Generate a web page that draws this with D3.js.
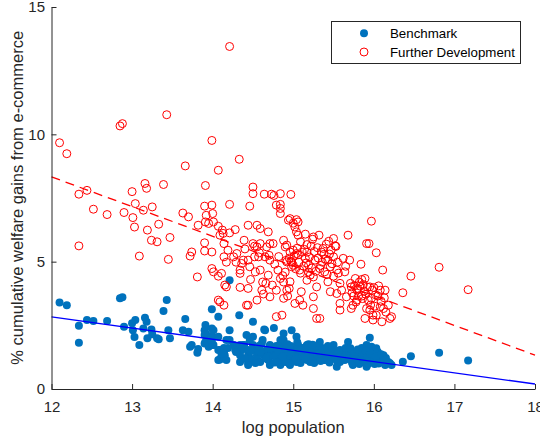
<!DOCTYPE html>
<html>
<head>
<meta charset="utf-8">
<script src="https://cdn.jsdelivr.net/npm/d3@7"></script>
<style>
  html, body { margin: 0; padding: 0; background: #fff; }
  svg { display: block; font-family: "Liberation Sans", Arial, Helvetica, sans-serif; }
</style>
</head>
<body>
<svg id="chart" width="540" height="438"></svg>
<script>
// Each city: [log population, benchmark gain %, further-development gain %]
const cities = [
  [12.10, 3.40, 9.67], [12.19, 3.29, 9.24], [12.34, 2.48, 7.65], [12.34, 1.82, 5.62],
  [12.44, 2.71, 7.80], [12.52, 2.67, 7.06], [12.69, 2.67, 6.85], [12.85, 3.56, 10.33],
  [12.88, 3.60, 10.42], [12.90, 2.44, 6.93], [13.00, 2.58, 7.75], [13.01, 2.31, 6.73],
  [13.04, 2.71, 7.28], [13.03, 2.04, 6.36], [13.09, 1.73, 5.22], [13.14, 2.38, 7.02],
  [13.16, 2.80, 8.07], [13.18, 2.64, 7.88], [13.19, 1.99, 6.24], [13.24, 2.34, 5.84],
  [13.25, 2.15, 7.15], [13.31, 1.99, 5.78], [13.33, 1.95, 6.47], [13.39, 3.06, 8.03],
  [13.43, 3.49, 10.77], [13.45, 2.31, 5.09], [13.47, 1.99, 5.95], [13.63, 2.31, 6.91],
  [13.66, 2.75, 8.76], [13.70, 2.25, 6.76], [13.74, 1.73, 5.38], [13.72, 1.66, 5.22],
  [13.81, 1.42, 4.40], [13.82, 1.57, 6.43], [13.91, 2.51, 7.99], [13.90, 2.31, 7.18],
  [13.92, 2.15, 6.82], [13.91, 1.85, 6.56], [13.90, 1.79, 5.74], [13.90, 2.12, 5.42],
  [13.95, 1.66, 6.50], [13.99, 3.13, 9.76], [13.99, 2.38, 7.22], [14.00, 1.73, 6.89],
  [14.01, 1.73, 6.56], [13.99, 1.92, 5.38], [13.99, 2.08, 4.73], [14.01, 2.31, 4.60],
  [14.07, 2.84, 8.59], [14.07, 2.05, 6.39], [14.07, 1.53, 4.43], [14.07, 1.14, 3.49],
  [14.09, 1.53, 6.04], [14.09, 1.16, 3.42], [14.11, 1.33, 4.54], [14.13, 1.45, 6.11],
  [14.14, 1.61, 5.71], [14.14, 1.45, 5.19], [14.15, 1.33, 4.08], [14.14, 1.22, 3.29],
  [14.17, 1.14, 4.01], [14.21, 4.27, 13.45], [14.21, 2.31, 7.25], [14.21, 1.92, 6.13],
  [14.26, 1.73, 5.19], [14.28, 1.53, 6.26], [14.30, 1.61, 5.32], [14.33, 2.90, 9.02],
  [14.34, 1.33, 4.67], [14.34, 1.73, 3.99], [14.34, 1.06, 4.54], [14.36, 1.53, 4.93],
  [14.38, 1.73, 5.06], [14.42, 2.12, 3.29], [14.44, 1.03, 6.43], [14.44, 1.33, 5.06],
  [14.44, 1.53, 3.95], [14.44, 0.94, 3.29], [14.46, 1.92, 7.18], [14.46, 1.22, 4.80],
  [14.50, 2.64, 7.93], [14.50, 2.05, 5.71], [14.50, 1.73, 7.67], [14.52, 1.53, 5.61],
  [14.52, 1.14, 5.19], [14.55, 1.16, 3.49], [14.55, 1.61, 5.58], [14.55, 1.33, 6.43],
  [14.57, 1.45, 5.19], [14.59, 1.53, 6.30], [14.59, 1.06, 5.71], [14.61, 1.79, 3.88],
  [14.63, 1.33, 3.73], [14.64, 2.34, 7.65], [14.65, 2.31, 5.19], [14.67, 1.53, 5.58],
  [14.69, 1.14, 6.17], [14.71, 1.73, 5.71], [14.71, 1.33, 5.06], [14.71, 0.94, 3.62],
  [14.73, 1.53, 7.65], [14.75, 1.33, 5.71], [14.76, 2.40, 7.60], [14.79, 1.45, 7.22],
  [14.79, 1.14, 3.88], [14.79, 1.69, 2.84], [14.84, 1.92, 7.67], [14.84, 1.53, 7.25],
  [14.84, 1.33, 7.09], [14.84, 1.06, 6.89], [14.84, 0.94, 4.34], [14.86, 1.69, 2.90],
  [14.88, 2.18, 3.56], [14.88, 1.14, 4.20], [14.90, 1.45, 5.58], [14.92, 1.33, 4.99],
  [14.92, 1.73, 3.88], [14.94, 1.06, 6.63], [14.96, 1.53, 5.38], [14.96, 0.94, 6.69],
  [14.96, 1.45, 4.21], [14.97, 1.69, 7.64], [14.98, 2.31, 4.80], [15.00, 1.33, 5.45],
  [15.00, 1.61, 4.86], [15.00, 1.14, 6.51], [15.02, 1.45, 6.36], [15.02, 1.22, 3.36],
  [15.04, 2.05, 6.17], [15.04, 1.53, 5.32], [15.04, 1.06, 6.65], [15.06, 1.33, 6.04],
  [15.06, 1.73, 6.56], [15.08, 1.14, 4.67], [15.08, 1.45, 3.49], [15.10, 1.61, 3.82],
  [15.12, 1.33, 3.29], [15.15, 1.53, 5.13], [15.17, 1.73, 5.67], [15.17, 1.22, 4.27],
  [15.19, 1.45, 4.86], [15.21, 1.06, 4.47], [15.25, 1.53, 5.97], [15.25, 1.33, 4.40],
  [15.25, 1.22, 3.62], [15.25, 1.61, 3.16], [15.27, 1.45, 5.06], [15.29, 1.33, 4.01],
  [15.29, 1.14, 2.77], [15.32, 1.53, 6.04], [15.33, 1.85, 4.73], [15.33, 1.22, 2.77],
  [15.35, 1.45, 5.38], [15.37, 1.33, 5.52], [15.39, 1.14, 4.60], [15.43, 1.45, 4.21],
  [15.46, 1.33, 4.80], [15.46, 1.22, 3.82], [15.50, 1.73, 5.91], [15.50, 1.45, 5.19],
  [15.54, 0.87, 4.67], [15.54, 1.33, 3.75], [15.58, 1.22, 4.15], [15.58, 1.53, 3.36],
  [15.58, 1.06, 3.10], [15.62, 1.33, 5.13], [15.64, 1.14, 4.60], [15.66, 1.45, 3.62],
  [15.68, 1.85, 6.04], [15.70, 1.22, 5.06], [15.72, 1.33, 4.01], [15.72, 1.14, 3.16],
  [15.74, 0.94, 3.29], [15.77, 1.22, 4.34], [15.79, 1.45, 3.88], [15.81, 1.14, 3.65],
  [15.84, 1.33, 4.90], [15.85, 1.22, 4.30], [15.89, 1.06, 4.34], [15.89, 1.14, 2.77],
  [15.91, 1.73, 5.71], [15.91, 0.87, 3.16], [15.94, 1.53, 5.71], [15.95, 2.01, 4.01],
  [15.95, 1.22, 3.10], [15.97, 1.66, 6.59], [15.97, 1.06, 3.56], [15.99, 1.53, 2.90],
  [15.99, 1.14, 2.71], [16.03, 1.60, 5.35], [16.03, 1.33, 2.90], [16.08, 1.22, 3.88],
  [16.08, 1.06, 3.23], [16.10, 1.33, 2.64], [16.11, 1.22, 4.67], [16.12, 1.33, 3.16],
  [16.14, 0.94, 3.88], [16.18, 1.06, 3.29], [16.20, 1.01, 2.77], [16.22, 0.94, 2.84],
  [16.36, 1.07, 3.78], [16.46, 1.29, 4.43], [16.81, 1.42, 4.78], [17.17, 1.12, 3.90],
  [14.88, 1.92, 5.84], [14.92, 1.29, 5.65], [14.95, 1.61, 5.14], [14.98, 1.45, 4.98],
  [15.01, 1.25, 5.22], [15.05, 1.84, 5.53], [15.07, 1.53, 4.98], [15.11, 1.29, 5.37],
  [15.13, 1.61, 4.82], [15.17, 1.14, 5.37], [15.19, 1.76, 4.59], [15.22, 1.45, 5.61],
  [15.31, 1.29, 5.14], [15.36, 1.61, 4.98], [15.38, 1.14, 5.29], [15.41, 1.45, 5.69],
  [15.43, 1.69, 5.06], [15.47, 1.22, 5.45], [15.50, 1.53, 4.43], [15.55, 1.06, 4.98],
  [15.60, 1.37, 3.88], [15.65, 1.61, 4.82], [15.75, 1.29, 3.65], [15.79, 1.06, 3.49],
  [15.83, 1.45, 4.04], [15.85, 1.61, 3.65], [15.88, 1.29, 3.84], [15.93, 0.98, 3.49],
  [15.98, 1.22, 3.88], [16.01, 0.98, 3.25], [16.05, 1.45, 3.65], [16.15, 1.22, 3.02],
  [14.59, 1.45, 4.67], [14.62, 1.92, 4.20], [14.69, 1.29, 4.47], [14.74, 1.61, 4.08],
  [14.81, 1.45, 4.67], [14.90, 1.06, 4.59], [14.93, 1.76, 3.65], [14.39, 1.73, 5.84],
  [14.29, 1.45, 4.98], [14.19, 1.61, 5.45], [14.17, 1.92, 4.98], [14.12, 1.40, 6.24],
  [14.97, 1.37, 5.02], [15.03, 1.18, 4.72], [15.06, 1.57, 5.27], [15.09, 1.02, 4.55],
  [15.14, 1.40, 5.48], [15.16, 1.66, 4.95], [15.20, 1.20, 5.18], [15.23, 1.50, 4.75],
  [15.26, 1.02, 5.40], [15.28, 1.70, 4.62], [15.30, 1.36, 5.55], [15.34, 1.10, 4.85],
  [15.40, 1.58, 5.10], [15.42, 1.26, 4.50], [15.45, 1.04, 5.30], [15.48, 1.62, 4.92],
  [15.52, 1.30, 5.62], [15.56, 1.48, 4.55], [15.71, 1.60, 4.15], [15.73, 1.02, 3.78],
  [15.76, 1.40, 4.05], [15.78, 1.18, 3.42], [15.80, 1.55, 3.95], [15.82, 0.98, 4.20],
  [15.86, 1.36, 3.55], [15.87, 1.12, 4.10], [15.90, 1.48, 3.72], [15.92, 1.26, 4.00],
  [15.96, 1.38, 3.30], [16.00, 1.10, 3.98], [16.02, 1.28, 3.70], [16.06, 1.00, 4.05],
  [16.09, 1.36, 3.45], [16.13, 1.12, 3.58], [14.40, 1.20, 5.50], [14.47, 1.48, 4.30],
  [14.53, 1.02, 4.60], [14.58, 1.70, 5.35], [14.66, 1.20, 4.15], [14.70, 1.60, 5.25],
  [14.77, 1.04, 4.90], [14.82, 1.70, 5.20], [14.87, 1.28, 4.45], [14.91, 1.58, 5.05],
  [14.95, 1.00, 3.95], [15.09, 1.52, 5.78], [15.15, 1.24, 6.08], [15.24, 1.74, 5.88],
  [15.44, 1.38, 5.80], [15.53, 1.16, 5.60]
];

const logPop     = cities.map(d => d[0]);
const benchmark  = cities.map(d => d[1]);
const furtherDev = cities.map(d => d[2]);

// Linear fits, evaluated at the ends of the x range
const fitRange = [12, 18];
const benchFit = [2.835, 0.196];
const devFit   = [8.33, 1.33];

const xTicks = [12, 13, 14, 15, 16, 17, 18];
const yTicks = [0, 5, 10, 15];
const seriesNames = ["Benchmark", "Further Development"];

const axisColor = "#262626";
const blue = "#0072BD";
const red = "#FF0000";

const svg = d3.select("#chart");
svg.append("rect").attr("width", 540).attr("height", 438).attr("fill", "#fff");

const x = d3.scaleLinear().domain([12, 18]).range([51.5, 535]);
const y = d3.scaleLinear().domain([0, 15]).range([389, 7]);

// Benchmark: filled dots
svg.append("g").selectAll("circle")
  .data(logPop.map((p, i) => [p, benchmark[i]]))
  .join("circle")
  .attr("cx", d => x(d[0]))
  .attr("cy", d => y(d[1]))
  .attr("r", 4)
  .attr("fill", blue);

// Further development: open circles
svg.append("g").selectAll("circle")
  .data(logPop.map((p, i) => [p, furtherDev[i]]))
  .join("circle")
  .attr("cx", d => x(d[0]))
  .attr("cy", d => y(d[1]))
  .attr("r", 4)
  .attr("fill", "none")
  .attr("stroke", red)
  .attr("stroke-width", 1);

// Fit lines
const line = d3.line().x(d => x(d[0])).y(d => y(d[1]));
svg.append("path")
  .datum(fitRange.map((r, i) => [r, benchFit[i]]))
  .attr("d", line)
  .attr("fill", "none")
  .attr("stroke", "#0000FF")
  .attr("stroke-width", 1.3);
svg.append("path")
  .datum(fitRange.map((r, i) => [r, devFit[i]]))
  .attr("d", line)
  .attr("fill", "none")
  .attr("stroke", red)
  .attr("stroke-width", 1.3)
  .attr("stroke-dasharray", "9,6");

// Axes with inward ticks
const xAxis = svg.append("g")
  .attr("transform", "translate(0,389)")
  .call(d3.axisBottom(x).tickValues(xTicks).tickFormat(d3.format("d"))
    .tickSizeInner(-5).tickSizeOuter(0).tickPadding(12));
const yAxis = svg.append("g")
  .attr("transform", "translate(51.5,0)")
  .call(d3.axisLeft(y).tickValues(yTicks).tickFormat(d3.format("d"))
    .tickSizeInner(-5).tickSizeOuter(0).tickPadding(6.5));

[xAxis, yAxis].forEach(g => {
  g.select(".domain").attr("stroke", axisColor).attr("stroke-width", 1);
  g.selectAll(".tick line").attr("stroke", axisColor).attr("stroke-width", 1);
  g.selectAll(".tick text")
    .attr("fill", axisColor)
    .style("font-size", "15px")
    .style("font-family", "'Liberation Sans', Arial, sans-serif");
});

// Axis titles
svg.append("text")
  .attr("x", 293.25).attr("y", 432.5)
  .attr("text-anchor", "middle")
  .attr("fill", axisColor)
  .style("font-size", "16.5px")
  .text("log population");
svg.append("text")
  .attr("transform", "translate(23.3,197.75) rotate(-90)")
  .attr("text-anchor", "middle")
  .attr("fill", axisColor)
  .style("font-size", "16.5px")
  .text("% cumulative welfare gains from e-commerce");

// Legend
const legend = svg.append("g");
legend.append("rect")
  .attr("x", 331.5).attr("y", 21.5)
  .attr("width", 189).attr("height", 42)
  .attr("fill", "#fff")
  .attr("stroke", axisColor)
  .attr("stroke-width", 1);
legend.append("circle").attr("cx", 364).attr("cy", 33.3).attr("r", 4).attr("fill", blue);
legend.append("circle").attr("cx", 364).attr("cy", 52).attr("r", 4)
  .attr("fill", "none").attr("stroke", red).attr("stroke-width", 1);
legend.selectAll("text.entry")
  .data(seriesNames)
  .join("text")
  .attr("class", "entry")
  .attr("x", 390)
  .attr("y", (d, i) => i === 0 ? 38.3 : 56.8)
  .attr("fill", "#000")
  .style("font-size", "13.3px")
  .text(d => d);
</script>
</body>
</html>
